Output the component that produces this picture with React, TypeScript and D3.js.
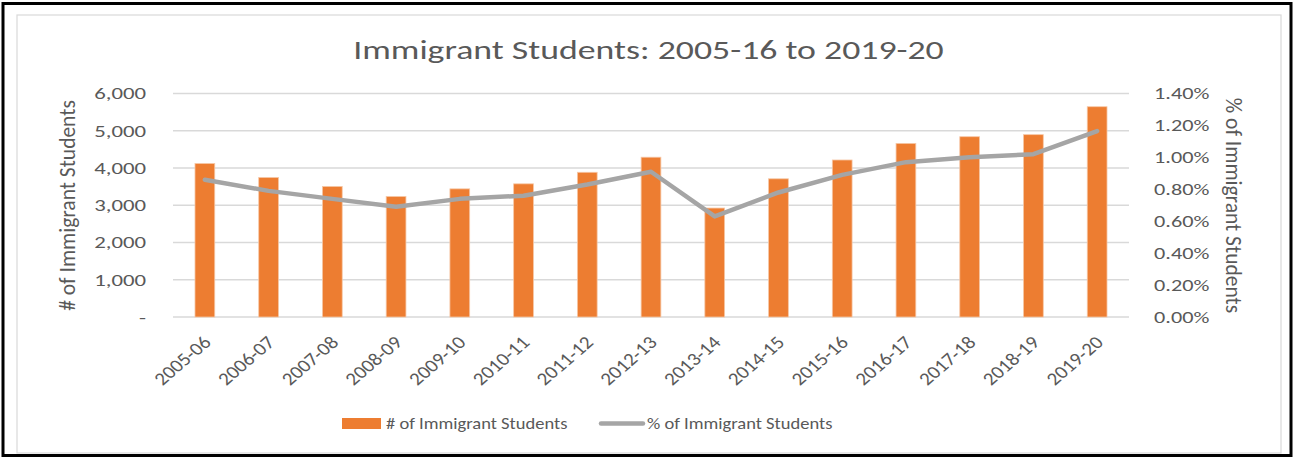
import * as d3 from 'd3';
import * as React from 'react';

const years = [
  '2005-06', '2006-07', '2007-08', '2008-09', '2009-10', '2010-11', '2011-12', '2012-13',
  '2013-14', '2014-15', '2015-16', '2016-17', '2017-18', '2018-19', '2019-20',
];
const studentCounts = [4120, 3745, 3505, 3235, 3440, 3575, 3885, 4290, 2925, 3710, 4215, 4660, 4840, 4895, 5645];
const studentPercents = [0.86, 0.79, 0.74, 0.69, 0.74, 0.76, 0.83, 0.91, 0.63, 0.78, 0.89, 0.97, 1.0, 1.02, 1.165];
const leftTicks = [0, 1000, 2000, 3000, 4000, 5000, 6000];
const rightTicks = [0, 0.2, 0.4, 0.6, 0.8, 1.0, 1.2, 1.4];

const W = 1294;
const H = 459;
const plot = { left: 173, right: 1129, top: 93.5, bottom: 317 };
const font = "Calibri, Carlito, Lato, sans-serif";
const textColor = '#595959';
const orange = '#ED7D31';
const gray = '#A5A5A5';

// the reference text is wider than our fallback font, so stretch it horizontally
const tf = (x: number, y: number, sx: number, rot = 0) =>
  `translate(${x},${y}) scale(${sx},1)` + (rot ? ` rotate(${rot})` : '');

export default function App() {
  const x = d3.scaleBand<string>().domain(years).range([plot.left, plot.right]).paddingInner(0.69).paddingOuter(0.345);
  const yL = d3.scaleLinear().domain([0, 6000]).range([plot.bottom, plot.top]);
  const yR = d3.scaleLinear().domain([0, 1.4]).range([plot.bottom, plot.top]);
  const cx = (i: number) => (x(years[i]) ?? 0) + x.bandwidth() / 2;

  const line = d3
    .line<number>()
    .x((_, i) => cx(i))
    .y((d) => yR(d));

  const fmtL = (v: number) => (v === 0 ? '-' : d3.format(',')(v));
  const fmtR = (v: number) => v.toFixed(2) + '%';

  return (
    <div style={{ position: 'absolute', left: 0, top: 0 }}>
      <svg width={W} height={H} style={{ display: 'block', fontFamily: font }}>
        <rect x={0} y={0} width={W} height={H} fill="#fff" />
        <rect x={3} y={3.5} width={1288} height={452} fill="none" stroke="#000" strokeWidth={3} />
        <rect x={17} y={15} width={1264} height={438} fill="#fff" stroke="#D9D9D9" strokeWidth={1.2} />

        <text transform={tf(648.5, 59, 1.35)} textAnchor="middle" fontSize={26.5} fill={textColor}>
          Immigrant Students: 2005-16 to 2019-20
        </text>

        {leftTicks.map((t) => (
          <line key={'g' + t} x1={plot.left} x2={plot.right} y1={yL(t)} y2={yL(t)} stroke="#D9D9D9" strokeWidth={1.3} />
        ))}

        {leftTicks.map((t) => (
          <text key={'l' + t} transform={tf(146, yL(t), 1.38)} dy="0.36em" textAnchor="end" fontSize={16.5} fill={textColor}>
            {fmtL(t)}
          </text>
        ))}
        {rightTicks.map((t) => (
          <text key={'r' + t} transform={tf(1154, yR(t), 1.35)} dy="0.36em" textAnchor="start" fontSize={16.5} fill={textColor}>
            {fmtR(t)}
          </text>
        ))}

        <text transform={tf(75, 205.5, 1.02, -90)} textAnchor="middle" fontSize={21.5} fill={textColor}>
          # of Immigrant Students
        </text>
        <text transform={tf(1226, 205.5, 1.02, 90)} textAnchor="middle" fontSize={21.5} fill={textColor}>
          % of Immigrant Students
        </text>

        {studentCounts.map((v, i) => (
          <rect
            key={'b' + i}
            x={x(years[i])}
            y={yL(v)}
            width={x.bandwidth()}
            height={plot.bottom - yL(v)}
            fill={orange}
            stroke="#F6C7A6"
            strokeWidth={0.8}
          />
        ))}

        <path d={line(studentPercents) ?? ''} fill="none" stroke={gray} strokeWidth={4.5} strokeLinejoin="round" strokeLinecap="round" />

        {years.map((yr, i) => (
          <text
            key={'x' + yr}
            transform={tf(cx(i) + 2, plot.bottom + 22, 1.17, -45)}
            textAnchor="end"
            dy="0.36em"
            fontSize={18}
            fill={textColor}
          >
            {yr}
          </text>
        ))}

        <rect x={342} y={418} width={39} height={11} fill={orange} />
        <text transform={tf(386, 429, 1.09)} fontSize={17} fill={textColor}>
          # of Immigrant Students
        </text>
        <line x1={601} x2={643} y1={423.5} y2={423.5} stroke={gray} strokeWidth={4.5} strokeLinecap="round" />
        <text transform={tf(647, 429, 1.09)} fontSize={17} fill={textColor}>
          % of Immigrant Students
        </text>
      </svg>
    </div>
  );
}
